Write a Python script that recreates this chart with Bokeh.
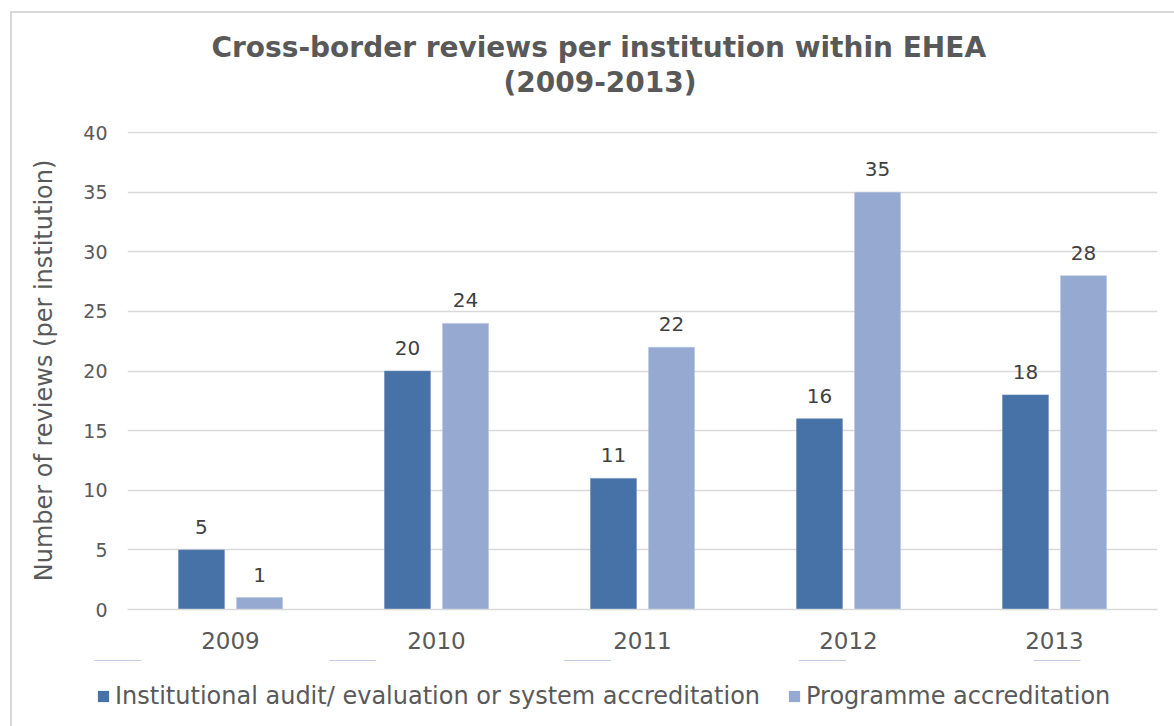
from bokeh.plotting import figure
from bokeh.layouts import column
from bokeh.models import (FactorRange, Range1d, ColumnDataSource, Legend, LegendItem,
                          LabelSet, Title)
from bokeh.core.properties import value
from bokeh.transform import dodge
from bokeh.embed import file_html
from bokeh.resources import INLINE

years = ["2009", "2010", "2011", "2012", "2013"]
institutional = [5, 20, 11, 16, 18]
programme = [1, 24, 22, 35, 28]
series_names = ["Institutional audit/ evaluation or system accreditation", "Programme accreditation"]
y_ticks = [0, 5, 10, 15, 20, 25, 30, 35, 40]
title_lines = ["Cross-border reviews per institution within EHEA", "(2009-2013)"]

C_DARK = "#4672A7"
C_LIGHT = "#95A9D1"
TXT = "#595959"
GRID = "#D9D9D9"
FONT = "DejaVu Sans"

src = ColumnDataSource(dict(years=years, inst=institutional, prog=programme,
                            inst_t=[str(v) for v in institutional],
                            prog_t=[str(v) for v in programme]))

W = 1174
H_MAIN, H_LEG = 660, 66
FL, FT, FW, FH = 127, 131, 1030, 478

BORDER_TOP = ("linear-gradient(#D9D9D9,#D9D9D9) 10px 11px / 2px 900px no-repeat, "
              "linear-gradient(#D9D9D9,#D9D9D9) 10px 11px / 1300px 2px no-repeat, white")
BORDER_LEFT = "linear-gradient(#D9D9D9,#D9D9D9) 10px 0px / 2px 900px no-repeat, white"

p = figure(x_range=FactorRange(*years), y_range=Range1d(0, 40.1),
           width=W, height=H_MAIN, output_backend="svg", toolbar_location=None,
           min_border_left=FL, min_border_top=FT,
           min_border_right=W - FL - FW, min_border_bottom=H_MAIN - FT - FH)
p.frame_width = FW
p.frame_height = FH
p.frame_align = False
p.outline_line_color = None
p.background_fill_color = "white"
p.border_fill_alpha = 0
p.styles = {"background": BORDER_TOP}

bar_dark = dict(fill_color=C_DARK, line_color="#6A8CBA", line_width=0.6)
bar_light = dict(fill_color=C_LIGHT, line_color="#B4C4E0", line_width=0.6)

r1 = p.vbar(x=dodge("years", -0.141, range=p.x_range), top="inst", width=0.223,
            source=src, **bar_dark)
r2 = p.vbar(x=dodge("years", 0.141, range=p.x_range), top="prog", width=0.223,
            source=src, **bar_light)

for col, txt, off in (("inst", "inst_t", -0.141), ("prog", "prog_t", 0.141)):
    p.add_layout(LabelSet(x=dodge("years", off, range=p.x_range), y=col, text=txt,
                          source=src, text_align="center", text_baseline="bottom",
                          y_offset=16, text_font_size="20px", text_color="#404040",
                          text_font=value(FONT)))

# axes
p.yaxis.ticker = y_ticks
p.yaxis.axis_line_color = None
p.yaxis.major_tick_line_color = None
p.yaxis.minor_tick_line_color = None
p.yaxis.major_label_text_font = FONT
p.yaxis.major_label_text_font_size = "19px"
p.yaxis.major_label_text_color = TXT
p.yaxis.major_label_standoff = 14
p.yaxis.axis_label = "Number of reviews (per institution)"
p.yaxis.axis_label_text_font = FONT
p.yaxis.axis_label_text_font_style = "normal"
p.yaxis.axis_label_text_font_size = "24px"
p.yaxis.axis_label_text_color = TXT
p.yaxis.axis_label_standoff = 22

p.xaxis.axis_line_color = GRID
p.xaxis.axis_line_width = 1.5
p.xaxis.major_tick_line_color = None
p.xaxis.minor_tick_line_color = None
p.xaxis.major_label_text_font = FONT
p.xaxis.major_label_text_font_size = "23px"
p.xaxis.major_label_text_color = TXT
p.xaxis.major_label_standoff = 16

p.xgrid.grid_line_color = None
p.ygrid.grid_line_color = GRID
p.ygrid.grid_line_width = 1.5

# two-line title, centred on the chart area (not the plot frame)
p.add_layout(Title(text="\u00a0", text_font_size="1px", standoff=30), "above")
p.add_layout(Title(text=title_lines[1], align="left", offset=376, standoff=0,
                   text_font=FONT, text_font_style="bold", text_font_size="28px",
                   text_color=TXT), "above")
p.add_layout(Title(text=title_lines[0], align="left", offset=84, standoff=0,
                   text_font=FONT, text_font_style="bold", text_font_size="28px",
                   text_color=TXT), "above")

# legend strip below the chart (its own small figure, frame spanning the full width).
# The proxy bars are zero-height and outside this strip's y view, so only
# their legend swatches are drawn.
pl = figure(width=W, height=H_LEG, output_backend="svg", toolbar_location=None,
            x_range=FactorRange(*years), y_range=Range1d(-20, -10),
            min_border=0, min_border_left=0, min_border_right=0,
            min_border_top=0, min_border_bottom=0)
pl.frame_width = W
pl.frame_height = H_LEG
pl.frame_align = False
pl.axis.visible = False
pl.grid.visible = False
pl.outline_line_color = None
pl.background_fill_alpha = 0
pl.border_fill_alpha = 0
pl.styles = {"background": BORDER_LEFT}
l1 = pl.vbar(x="years", top="inst", bottom="inst", width=0.2, source=src,
             fill_color=C_DARK, line_color=None)
l2 = pl.vbar(x="years", top="prog", bottom="prog", width=0.2, source=src,
             fill_color=C_LIGHT, line_color=None)

legend = Legend(items=[LegendItem(label=series_names[0], renderers=[l1]),
                       LegendItem(label=series_names[1], renderers=[l2])],
                orientation="horizontal", location=(96, 16),
                label_text_font=FONT, label_text_font_size="24px", label_text_color=TXT,
                glyph_width=14, glyph_height=14, label_standoff=5, spacing=27,
                padding=0, margin=0, border_line_color=None, background_fill_alpha=0)
pl.add_layout(legend, "center")

layout = column(p, pl, spacing=0)
open("out.html", "w").write(file_html(layout, INLINE))
